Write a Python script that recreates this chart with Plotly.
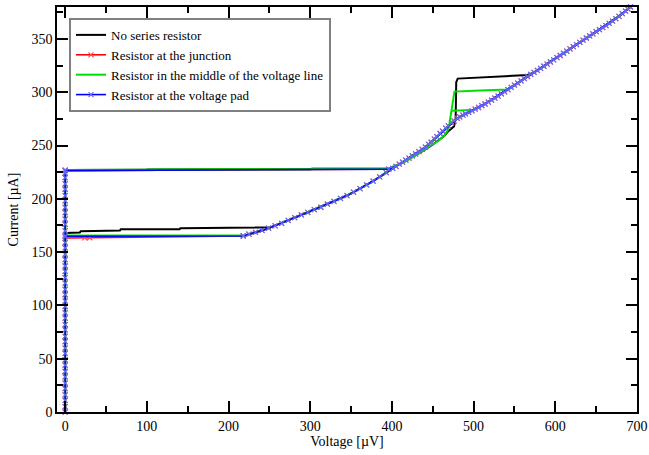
import plotly.graph_objects as go

# ---------------- data ----------------
series_names = ["No series resistor", "Resistor at the junction",
                "Resistor in the middle of the voltage line", "Resistor at the voltage pad"]

# supercurrent branch at V = 0 (current values, µA)
sc_current = [0, 5, 11, 16, 22, 27, 33, 38, 44, 49, 55, 60, 66, 71, 77, 82, 88, 93, 99,
              104, 110, 115, 121, 126, 132, 137, 143, 148, 154, 159, 165, 170, 176, 181,
              187, 192, 198, 203, 209, 214, 220, 224, 227]

# jump branch at the switching current (V, I)
jump_v_blue = [0, 396]
jump_i_blue = [226.5, 227.9]
jump_v_green = [0, 100, 101, 300, 302, 396]
jump_i_green = [227.1, 227.2, 227.6, 227.7, 228.3, 228.5]

# quasiparticle branch, sweep up (V µV, I µA)
qp_up_v = [405, 413, 421, 429, 437, 445, 452, 459, 466, 473, 480, 487, 494, 502, 510, 518,
           526, 534, 542, 550, 558, 566, 574, 582, 590, 598, 606, 614, 622, 630, 638, 646,
           654, 662, 670, 678, 686, 692]
qp_up_i = [230.5, 234.4, 238.3, 242.2, 246.4, 251.2, 256.0, 261.3, 266.4, 271.2, 275.4,
           278.6, 281.2, 284.2, 287.4, 290.8, 294.5, 298.4, 302.5, 306.6, 310.7, 314.8,
           318.6, 322.5, 326.4, 330.4, 334.5, 338.6, 342.8, 346.8, 350.9, 354.8, 358.7,
           362.6, 366.8, 371.3, 376.2, 380.0]

# quasiparticle branch, sweep down (V µV, I µA)
qp_down_v = [689, 682, 674, 666, 658, 650, 642, 634, 626, 618, 610, 602, 594, 586, 578, 570,
             562, 554, 546, 538, 530, 522, 514, 506, 498, 490, 483, 476, 469, 462, 455, 448,
             441, 433, 425, 417, 409, 401, 393, 385, 377, 369, 361, 353, 345, 337, 329, 321,
             313, 305, 297, 289, 281, 273, 265, 257, 249, 241, 233, 225, 218]
qp_down_i = [378.1, 373.8, 369.0, 364.6, 360.6, 356.8, 352.9, 348.9, 344.8, 340.7, 336.6,
             332.5, 328.4, 324.4, 320.6, 316.8, 312.8, 308.6, 304.5, 300.3, 296.4, 292.6,
             289.0, 285.7, 282.6, 279.8, 277.0, 273.2, 268.5, 263.5, 258.3, 253.1, 248.6,
             244.4, 240.3, 236.4, 232.5, 228.5, 224.5, 220.6, 216.7, 213.1, 209.6, 206.3,
             203.1, 200.4, 197.7, 195.0, 192.1, 189.9, 187.4, 184.9, 182.4, 179.7, 177.0,
             174.6, 172.5, 170.4, 168.6, 166.8, 165.2]

# lower-side up sweep with switching steps (no series resistor)
black_up_v = [396, 413, 425, 437, 448, 457, 464, 469, 472, 476, 478, 478.3, 478.7, 480.5,
              500, 525, 550, 566]
black_up_i = [228.3, 233.8, 239.0, 244.5, 249.8, 254.5, 259.0, 263.5, 265.5, 268.0, 275.0,
              295.0, 309.5, 312.8, 313.6, 314.6, 315.5, 316.2]
# retrapping branch (no series resistor)
black_low_v = [252, 245, 219, 218, 141, 140, 68, 67, 19, 18, 0]
black_low_i = [173.4, 173.2, 173.0, 172.4, 172.3, 171.5, 171.4, 170.3, 169.5, 168.5, 168.0]

# lower-side up sweep with switching steps (resistor in the middle)
green_up_v = [396, 413, 425, 437, 448, 457, 464, 468, 470.5, 473, 474.5, 476.5, 500, 520, 541]
green_up_i = [228.5, 233.8, 239.0, 244.5, 249.8, 254.5, 259.0, 264.0, 271.0, 282.7, 292.5,
              300.6, 301.5, 302.1, 302.6]
green_step_v = [473, 485, 497]
green_step_i = [282.7, 283.0, 283.4]
green_low_v = [218, 0]
green_low_i = [165.7, 165.5]

# retrapping branches
red_low_v = [218, 30, 24, 0]
red_low_i = [165.2, 163.5, 163.4, 163.2]
blue_low_v = [218, 0]
blue_low_i = [165.1, 164.9]

# ---------------- build the series ----------------
def path(*parts):
    xs, ys = [], []
    for vx, vy in parts:
        xs += list(vx)
        ys += list(vy)
    return xs, ys

zeros = [0] * len(sc_current)
up_after_black = [(v, i) for v, i in zip(qp_up_v, qp_up_i) if v > 568]
up_after_green = [(v, i) for v, i in zip(qp_up_v, qp_up_i) if v > 545]

bx, by = path((zeros, sc_current), (jump_v_green, jump_i_green), (black_up_v, black_up_i),
              ([p[0] for p in up_after_black], [p[1] for p in up_after_black]),
              (qp_down_v, qp_down_i), (black_low_v, black_low_i))
rx, ry = path((zeros, sc_current), (jump_v_blue, jump_i_blue), (qp_up_v, qp_up_i),
              (qp_down_v, qp_down_i), (red_low_v, red_low_i))
gx, gy = path((zeros, sc_current), (jump_v_green, jump_i_green), (green_up_v, green_up_i),
              ([p[0] for p in up_after_green], [p[1] for p in up_after_green]),
              (qp_down_v, qp_down_i), (green_low_v, green_low_i),
              ([None], [None]), (green_step_v, green_step_i))
ux, uy = path((zeros, sc_current), (jump_v_blue, jump_i_blue), (qp_up_v, qp_up_i),
              (qp_down_v, qp_down_i), (blue_low_v, blue_low_i))

FONT = "Liberation Serif"
fig = go.Figure()
fig.add_trace(go.Scatter(x=bx, y=by, mode="lines", name=series_names[0],
                         line=dict(color="black", width=2)))
fig.add_trace(go.Scatter(x=rx, y=ry, mode="lines+markers", name=series_names[1],
                         line=dict(color="#ff0000", width=1.6), cliponaxis=False,
                         marker=dict(symbol="x-thin", size=5,
                                     line=dict(color="#ff4848", width=1.1))))
fig.add_trace(go.Scatter(x=gx, y=gy, mode="lines", name=series_names[2],
                         line=dict(color="#00e000", width=2), connectgaps=False))
fig.add_trace(go.Scatter(x=ux, y=uy, mode="lines+markers", name=series_names[3],
                         line=dict(color="#0000ff", width=1.6), cliponaxis=False,
                         marker=dict(symbol="x-thin", size=5,
                                     line=dict(color="#6868ff", width=1.1))))

axis_common = dict(showline=True, linecolor="black", linewidth=1.5, mirror="allticks",
                   ticks="inside", ticklen=11, tickwidth=1.5, tickcolor="black",
                   showgrid=False, zeroline=False, automargin=False,
                   tickfont=dict(family=FONT, size=14, color="black"))
fig.update_xaxes(range=[-10, 700], dtick=100, tick0=0,
                 minor=dict(dtick=50, ticks="inside", ticklen=6, tickwidth=1.5,
                            tickcolor="black", showgrid=False),
                 title=dict(text="Voltage [µV]", font=dict(family=FONT, size=14, color="black"),
                            standoff=2),
                 **axis_common)
fig.update_yaxes(range=[0, 380], dtick=50, tick0=0,
                 minor=dict(dtick=25, ticks="inside", ticklen=6, tickwidth=1.5,
                            tickcolor="black", showgrid=False),
                 title=dict(text="Current [µA]", font=dict(family=FONT, size=14, color="black"),
                            standoff=10),
                 **axis_common)

fig.update_layout(
    width=649, height=455,
    margin=dict(l=57, r=12, t=7, b=43),
    paper_bgcolor="white", plot_bgcolor="white",
    font=dict(family=FONT, size=14, color="black"),
    showlegend=True,
    legend=dict(x=0.0207, y=0.973, xanchor="left", yanchor="top",
                bordercolor="#808080", borderwidth=2, bgcolor="white",
                font=dict(family=FONT, size=13, color="black"),
                itemwidth=30, tracegroupgap=0),
)

fig.write_html("out.html", config={"displayModeBar": False},
               post_script="document.body.style.margin='0px';")
